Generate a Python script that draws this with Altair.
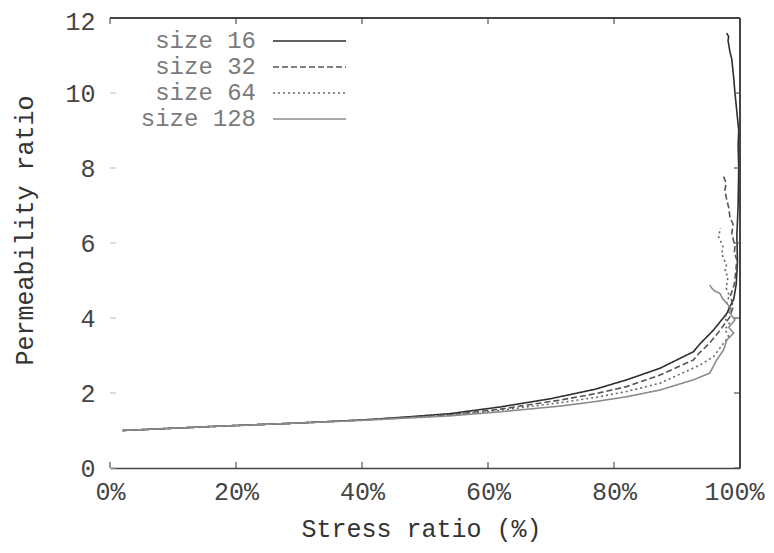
import altair as alt
import pandas as pd

# ---- data ----
series_names = ["size 16", "size 32", "size 64", "size 128"]

x16 = [2, 10, 18, 30, 40, 47, 54, 62, 70, 77, 82, 87.3, 92.6, 93.7, 95.8, 97.9, 98.4, 99.0, 99.4, 99.6, 99.5, 99.7, 99.8, 99.7, 99.8, 99.5, 99.2, 99.0, 98.7, 98.4, 98.1, 98.2, 97.9]
y16 = [1.0, 1.06, 1.12, 1.2, 1.28, 1.36, 1.45, 1.63, 1.85, 2.1, 2.35, 2.66, 3.1, 3.32, 3.68, 4.12, 4.3, 4.5, 4.9, 5.5, 6.2, 7.0, 8.0, 8.6, 9.0, 9.5, 10.0, 10.4, 10.9, 11.1, 11.4, 11.5, 11.6]

x32 = [2, 10, 18, 30, 40, 47, 54, 62, 71.4, 77, 82, 87.3, 92.6, 93.5, 95, 96.5, 98.4, 98.9, 98.5, 99.1, 99.3, 99.5, 99.1, 99.2, 98.7, 98.9, 98.4, 98.2, 97.9, 97.6, 97.8, 97.4]
y32 = [1.0, 1.06, 1.12, 1.2, 1.28, 1.35, 1.42, 1.57, 1.81, 1.98, 2.17, 2.48, 2.88, 3.06, 3.3, 3.6, 4.03, 4.3, 4.6, 4.9, 5.2, 5.55, 5.75, 5.9, 6.26, 6.5, 6.7, 6.95, 7.15, 7.4, 7.6, 7.77]

x64 = [2, 10, 18, 30, 40, 47, 54, 62, 71.4, 77, 82, 87.3, 93.7, 95.8, 97.4, 98.2, 97.6, 98.3, 97.5, 98.4, 97.9, 98.3, 97.8, 98.1, 97.6, 97.9, 97.1, 97.3, 96.6, 96.9]
y64 = [1.0, 1.06, 1.12, 1.2, 1.28, 1.34, 1.41, 1.54, 1.74, 1.88, 2.04, 2.26, 2.75, 2.97, 3.33, 3.5, 3.7, 3.85, 4.0, 4.2, 4.4, 4.6, 4.8, 5.1, 5.25, 5.37, 5.72, 5.9, 6.17, 6.4]

x128 = [2, 10, 18, 30, 40, 47, 54, 62, 71.4, 77, 82, 87.3, 92.6, 95.2, 96.3, 97.4, 97.9, 99.0, 98.2, 99.2, 98.3, 98.6, 97.9, 97.3, 96.8, 96.0, 95.5, 95.2]
y128 = [1.0, 1.06, 1.12, 1.2, 1.27, 1.33, 1.39, 1.5, 1.65, 1.77, 1.9, 2.08, 2.35, 2.53, 2.88, 3.15, 3.41, 3.6, 3.75, 3.95, 4.15, 4.25, 4.39, 4.5, 4.66, 4.72, 4.8, 4.88]

x_ticks = [0, 20, 40, 60, 80, 100]
y_ticks = [0, 2, 4, 6, 8, 10, 12]

colors = ["#2e2e2e", "#555555", "#666666", "#8c8c8c"]
dashes = [[1, 0], [6, 3], [2, 3], [1, 0]]

rows = []
for name, xs, ys in zip(series_names, [x16, x32, x64, x128], [y16, y32, y64, y128]):
    for i, (xv, yv) in enumerate(zip(xs, ys)):
        rows.append({"series": name, "i": i, "stress": xv, "perm": yv})
df = pd.DataFrame(rows)

FONT = "Liberation Mono"
W, H = 630, 450

xscale = alt.Scale(domain=[0, 100], nice=False)
yscale = alt.Scale(domain=[0, 12], nice=False)

lines = alt.Chart(df).mark_line(strokeWidth=1.6).encode(
    x=alt.X("stress:Q", scale=xscale,
            axis=alt.Axis(values=x_ticks, labelExpr="datum.value + '%'", ticks=False, grid=False,
                          domainColor="#444", domainWidth=1.5, labelFont=FONT, labelFontSize=25,
                          labelColor="#444", labelPadding=11, labelFlush=False,
                          labelOffset={"expr": "datum.value == 100 ? -6 : 0"},
                          title="Stress ratio (%)", titleFont=FONT, titleFontSize=25,
                          titleFontWeight="normal", titleColor="#333",
                          titleBaseline="middle", titleY=60, titleX=311)),
    y=alt.Y("perm:Q", scale=yscale,
            axis=alt.Axis(values=y_ticks, ticks=False, grid=False, domain=False,
                          labelFont=FONT, labelFontSize=25, labelColor="#444", labelPadding=15,
                          labelFlush=False,
                          labelOffset={"expr": "datum.value == 12 ? 3 : 0"},
                          title="Permeability ratio", titleFont=FONT, titleFontSize=25,
                          titleFontWeight="normal", titleColor="#333",
                          titleBaseline="middle", titleX=-86, titleY=212)),
    color=alt.Color("series:N", scale=alt.Scale(domain=series_names, range=colors), legend=None),
    strokeDash=alt.StrokeDash("series:N", scale=alt.Scale(domain=series_names, range=dashes), legend=None),
    order="i:Q",
    detail="series:N",
)

xt = pd.DataFrame({"t": x_ticks})
yt = pd.DataFrame({"t": y_ticks})
tick_style = dict(color="#555", strokeWidth=1.2)

xb = alt.Chart(xt).mark_rule(**tick_style).encode(
    x=alt.X("t:Q", scale=xscale), y=alt.value(H), y2=alt.value(H - 6))
xtop = alt.Chart(xt).mark_rule(**tick_style).encode(
    x=alt.X("t:Q", scale=xscale), y=alt.value(0), y2=alt.value(6))
yl = alt.Chart(yt).mark_rule(color="#bbb", strokeWidth=1).encode(
    y=alt.Y("t:Q", scale=yscale), x=alt.value(0), x2=alt.value(6))
yr = alt.Chart(yt).mark_rule(**tick_style).encode(
    y=alt.Y("t:Q", scale=yscale), x=alt.value(W), x2=alt.value(W - 6))

border_top = alt.Chart(xt).mark_rule(color="#444", strokeWidth=1.5).encode(
    x=alt.value(0), x2=alt.value(W), y=alt.value(0))
border_right = alt.Chart(xt).mark_rule(color="#444", strokeWidth=1.5).encode(
    x=alt.value(W), y=alt.value(0), y2=alt.value(H))

legend_layers = []
for k, name in enumerate(series_names):
    ypix = 23 + 26 * k
    ld = pd.DataFrame({"label": [name]})
    legend_layers.append(
        alt.Chart(ld).mark_text(align="right", baseline="middle", font=FONT, fontSize=24,
                                color="#7a7a7a").encode(
            x=alt.value(146), y=alt.value(ypix), text="label:N"))
    legend_layers.append(
        alt.Chart(ld).mark_rule(color=colors[k], strokeWidth=1.6, strokeDash=dashes[k]).encode(
            x=alt.value(163), x2=alt.value(236), y=alt.value(ypix)))

chart = alt.layer(lines, xb, xtop, yl, yr, border_top, border_right, *legend_layers).properties(
    width=W, height=H,
    autosize=alt.AutoSizeParams(type="none"),
    padding={"left": 102, "top": 10, "right": 26, "bottom": 77},
    background="white",
).configure_view(stroke=None)

chart.save("out.html", embed_options={"renderer": "svg", "actions": False})
